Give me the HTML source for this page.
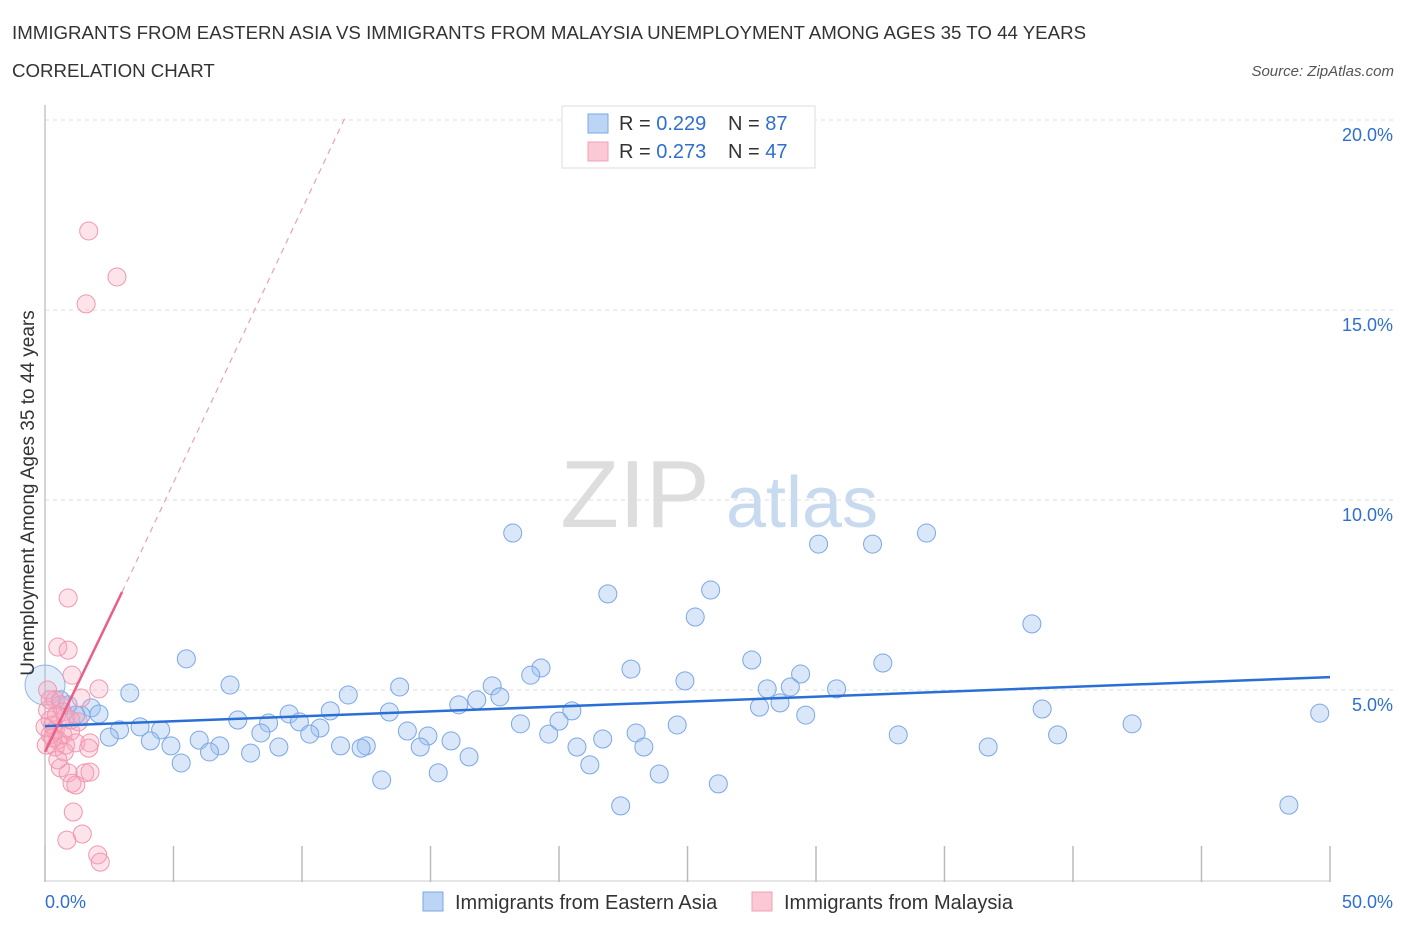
<!DOCTYPE html>
<html><head><meta charset="utf-8"><style>
body{margin:0;background:#fff;font-family:"Liberation Sans",sans-serif}
svg text{font-family:"Liberation Sans",sans-serif}
</style></head><body>
<svg id="c" width="1406" height="930" xmlns="http://www.w3.org/2000/svg">
<text x="12" y="39" font-size="18.7" fill="#333">IMMIGRANTS FROM EASTERN ASIA VS IMMIGRANTS FROM MALAYSIA UNEMPLOYMENT AMONG AGES 35 TO 44 YEARS</text>
<text x="12" y="77" font-size="18.7" fill="#333">CORRELATION CHART</text>
<text x="1394" y="76" font-size="15" fill="#555" font-style="italic" text-anchor="end">Source: ZipAtlas.com</text>
<text x="635" y="527" font-size="96" fill="#ddd" font-family="Liberation Serif" text-anchor="middle">ZIP</text>
<text x="802" y="527" font-size="72" fill="#c8daf0" text-anchor="middle">atlas</text>
<g id="grid"></g><g id="pts"></g><g id="lines"></g>
<text transform="translate(34,493) rotate(-90)" font-size="19" fill="#333" text-anchor="middle">Unemployment Among Ages 35 to 44 years</text>
<g>
<rect x="562" y="106" width="253" height="62" fill="#fff" stroke="#ddd"/>
<rect x="588" y="114" width="20" height="19" fill="#bcd5f5" stroke="#7aa7e6"/>
<rect x="588" y="142" width="20" height="19" fill="#fbc8d6" stroke="#f0a0b8"/>
<text x="619" y="130" font-size="20" fill="#333">R = <tspan fill="#2f6fcf">0.229</tspan></text>
<text x="728" y="130" font-size="20" fill="#333">N = <tspan fill="#2f6fcf">87</tspan></text>
<text x="619" y="158" font-size="20" fill="#333">R = <tspan fill="#2f6fcf">0.273</tspan></text>
<text x="728" y="158" font-size="20" fill="#333">N = <tspan fill="#2f6fcf">47</tspan></text>
</g>
<g>
<rect x="423" y="892" width="20" height="19" fill="#bcd5f5" stroke="#7aa7e6"/>
<text x="455" y="909" font-size="20" fill="#333">Immigrants from Eastern Asia</text>
<rect x="752" y="892" width="20" height="19" fill="#fbc8d6" stroke="#f0a0b8"/>
<text x="784" y="909" font-size="20" fill="#333">Immigrants from Malaysia</text>
</g>
</svg>
<script>
const blueX=[18.2,34.3,30.1,32.2,21.9,25.9,25.3,38.4,5.5,19.3,22.8,27.5,32.6,18.9,29.4,7.2,24.9,13.8,17.4,3.3,11.8,28.1,29.0,30.8,17.7,16.8,16.1,11.1,28.6,27.8,13.4,20.5,38.8,49.6,1.8,2.1,1.4,9.5,7.5,8.7,9.9,18.5,20.0,24.6,29.6,42.3,2.9,3.7,4.5,10.7,14.1,10.3,8.4,2.5,14.9,19.6,23.0,33.2,39.4,21.7,6.0,4.1,4.9,6.8,9.1,11.5,12.5,12.3,14.6,15.8,20.7,23.3,36.7,6.4,8.0,16.5,5.3,21.2,15.3,23.9,13.1,26.2,22.4,48.4,0.9,1.2,0.6];
const blueY=[9.13,9.13,8.84,8.84,7.53,7.63,6.92,6.74,5.82,5.58,5.55,5.79,5.71,5.39,5.42,5.13,5.24,5.08,5.11,4.92,4.87,5.03,5.08,5.03,4.82,4.74,4.61,4.45,4.66,4.55,4.42,4.45,4.50,4.39,4.53,4.37,4.34,4.37,4.21,4.13,4.16,4.11,4.18,4.08,4.34,4.11,3.95,4.03,3.95,4.0,3.92,3.84,3.87,3.76,3.79,3.84,3.87,3.82,3.82,3.71,3.68,3.66,3.53,3.53,3.5,3.53,3.53,3.47,3.5,3.66,3.5,3.5,3.5,3.37,3.34,3.24,3.08,3.03,2.82,2.79,2.63,2.53,1.95,1.97,4.61,4.34,4.74];
const pinkX=[1.7,2.8,1.6,0.9,0.5,0.9,1.05,2.1,0.1,0.4,1.4,0.7,0.2,0,0.4,0.7,0.5,1.0,0.8,1.2,1.75,0.4,0.3,0.6,0.8,1.7,1.55,0.6,0.9,1.75,1.05,1.2,1.1,1.45,0.85,2.05,2.15,0.1,0.45,0.2,0.75,0.5,1.0,1.3,0.3,0.05,0.2];
const pinkY=[17.08,15.87,15.16,7.42,6.13,6.05,5.39,5.03,5.0,4.74,4.79,4.42,4.21,4.03,3.95,3.82,3.68,3.92,3.55,3.61,3.61,3.5,4.08,4.61,4.29,3.47,2.82,2.95,2.82,2.84,2.55,2.5,1.79,1.21,1.05,0.66,0.47,4.47,4.34,3.82,3.37,3.16,4.21,4.16,3.74,3.55,4.74];
const yTicks=[5,10,15,20];
const blueTrend=[[0,4.05],[50,5.34]];
const pinkTrend=[[0,3.37],[3.0,7.58]];
const pinkDash=[[3.0,7.58],[11.7,20.1]];
const NS='http://www.w3.org/2000/svg';
const sx=v=>45+v*25.7, sy=v=>880-v*38;
function mk(t,a,p){const e=document.createElementNS(NS,t);for(const k in a)e.setAttribute(k,a[k]);p.appendChild(e);return e;}
const g=document.getElementById('grid');
yTicks.forEach(t=>{
 const l=mk('line',{x1:45,x2:1395,y1:sy(t),y2:sy(t),stroke:'#ddd','stroke-dasharray':'4,4'},g);
 
 
 const tx=mk('text',{x:1393,y:sy(t)+21,'font-size':18,fill:'#2f6fcf','text-anchor':'end'},g);tx.textContent=t.toFixed(1)+'%';
 
 
});
mk('line',{x1:45,x2:45,y1:105,y2:882,stroke:'#aaa'},g);
mk('line',{x1:45,x2:1330,y1:881,y2:881,stroke:'#ccc'},g);
for(let i=0;i<=10;i++){mk('line',{x1:sx(i*5),x2:sx(i*5),y1:846,y2:882,stroke:'#bbb','stroke-width':1.5},g);}
const xl=mk('text',{x:45,y:908,'font-size':18,fill:'#2f6fcf'},g);xl.textContent='0.0%';

const xr=mk('text',{x:1393,y:908,'font-size':18,fill:'#2f6fcf','text-anchor':'end'},g);xr.textContent='50.0%';

const P=document.getElementById('pts');
const big=mk('circle',{cx:sx(0),cy:sy(5.13),r:20,fill:'rgba(160,195,240,0.3)',stroke:'#8fb4ea'},P);


blueX.forEach((x,i)=>{const c=mk('circle',{cx:sx(x),cy:sy(blueY[i]),r:9,fill:'rgba(160,195,240,0.4)',stroke:'#7aa7e6','stroke-width':1},P);
 
 });
pinkX.forEach((x,i)=>{const c=mk('circle',{cx:sx(x),cy:sy(pinkY[i]),r:9,fill:'rgba(248,165,190,0.3)',stroke:'#f096b0','stroke-width':1},P);
 
 });
const L=document.getElementById('lines');
const bl=mk('line',{x1:sx(blueTrend[0][0]),y1:sy(blueTrend[0][1]),x2:sx(blueTrend[1][0]),y2:sy(blueTrend[1][1]),stroke:'#2a6fd6','stroke-width':2.5},L);

const pl=mk('line',{x1:sx(pinkTrend[0][0]),y1:sy(pinkTrend[0][1]),x2:sx(pinkTrend[1][0]),y2:sy(pinkTrend[1][1]),stroke:'#e8608a','stroke-width':2.5},L);

const pd=mk('line',{x1:sx(pinkDash[0][0]),y1:sy(pinkDash[0][1]),x2:sx(pinkDash[1][0]),y2:sy(pinkDash[1][1]),stroke:'#eaa0b8','stroke-width':1.2,'stroke-dasharray':'6,5'},L);

</script>
</body></html>
